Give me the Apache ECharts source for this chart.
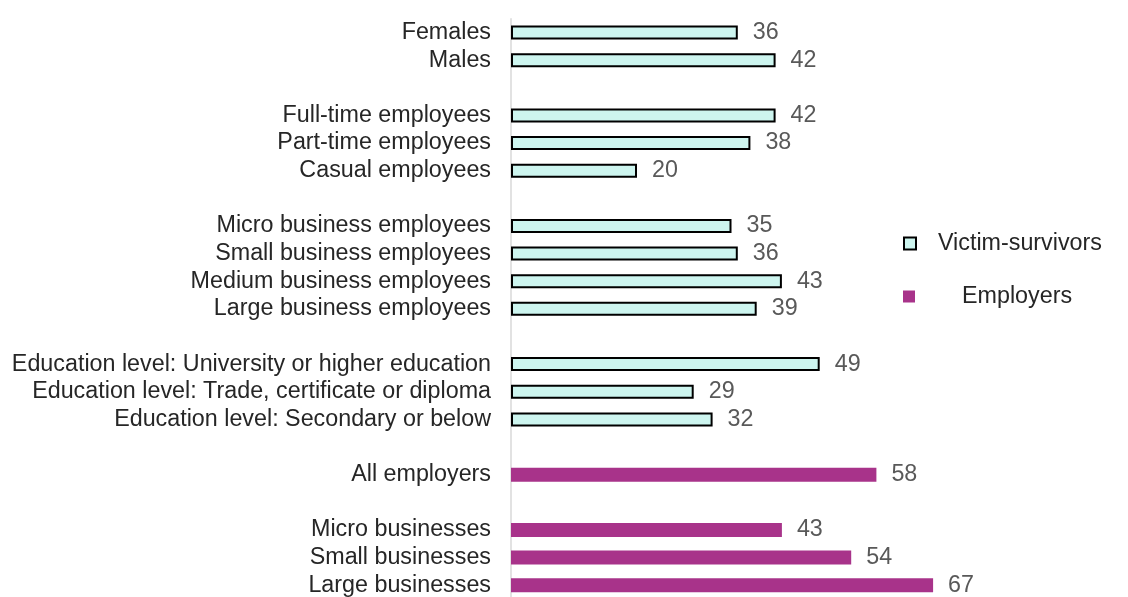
<!DOCTYPE html>
<html>
<head>
<meta charset="utf-8">
<script src="https://cdn.jsdelivr.net/npm/echarts@6/dist/echarts.min.js"></script>
<style>
  html, body { margin: 0; padding: 0; background: #ffffff; }
  #chart { width: 1128px; height: 597px; }
</style>
</head>
<body>
<div id="chart"></div>
<script>
// Row labels, top to bottom; empty strings are spacer rows between groups
const categories = [
  'Females', 'Males', '',
  'Full-time employees', 'Part-time employees', 'Casual employees', '',
  'Micro business employees', 'Small business employees', 'Medium business employees', 'Large business employees', '',
  'Education level: University or higher education', 'Education level: Trade, certificate or diploma', 'Education level: Secondary or below', '',
  'All employers', '',
  'Micro businesses', 'Small businesses', 'Large businesses'
];

// Percentages for victim-survivors
const victimValues = [
  36, 42, null,
  42, 38, 20, null,
  35, 36, 43, 39, null,
  49, 29, 32, null,
  null, null,
  null, null, null
];

// Percentages for employers
const employerValues = [
  null, null, null,
  null, null, null, null,
  null, null, null, null, null,
  null, null, null, null,
  58, null,
  43, 54, 67
];

const seriesNames = ['Victim-survivors', 'Employers'];

const FONT = '"Liberation Sans", Arial, sans-serif';
const FONT_SIZE = 23.3;
const labelStyle = {
  show: true,
  position: 'right',
  distance: 15,
  color: '#595959',
  fontSize: FONT_SIZE,
  fontFamily: FONT
};

const chart = echarts.init(document.getElementById('chart'), null, { renderer: 'canvas' });

chart.setOption({
  animation: false,
  backgroundColor: '#ffffff',
  grid: {
    left: 511, top: 18.7, width: 504, height: 580.3,
    containLabel: false,
    outerBoundsMode: 'none'
  },
  xAxis: {
    type: 'value',
    min: 0,
    max: 80,
    show: false
  },
  yAxis: {
    type: 'category',
    inverse: true,
    data: categories,
    axisLine: { show: true, lineStyle: { color: '#d9d9d9', width: 1.5 } },
    axisTick: { show: false },
    splitLine: { show: false },
    axisLabel: {
      margin: 20,
      color: '#262626',
      fontSize: FONT_SIZE,
      fontFamily: FONT,
      interval: 0
    }
  },
  legend: [
    {
      data: [seriesNames[0]],
      orient: 'vertical',
      left: 903,
      top: 232,
      padding: 0,
      icon: 'rect',
      itemWidth: 12,
      itemHeight: 12,
      itemStyle: { borderColor: '#000000', borderWidth: 2 },
      textStyle: { color: '#262626', fontSize: FONT_SIZE, fontFamily: FONT, padding: [0, 0, 0, 17] }
    },
    {
      data: [seriesNames[1]],
      orient: 'vertical',
      left: 903,
      top: 285,
      padding: 0,
      icon: 'rect',
      itemWidth: 12,
      itemHeight: 12,
      textStyle: { color: '#262626', fontSize: FONT_SIZE, fontFamily: FONT, padding: [0, 0, 0, 42] }
    }
  ],
  series: [
    {
      name: seriesNames[0],
      type: 'bar',
      stack: 'all',
      data: victimValues,
      barWidth: 14,
      itemStyle: { color: '#cdf5ef', borderColor: '#000000', borderWidth: 2 },
      label: labelStyle
    },
    {
      name: seriesNames[1],
      type: 'bar',
      stack: 'all',
      data: employerValues,
      barWidth: 15,
      itemStyle: { color: '#a8338a' },
      label: labelStyle
    }
  ]
});
</script>
</body>
</html>
